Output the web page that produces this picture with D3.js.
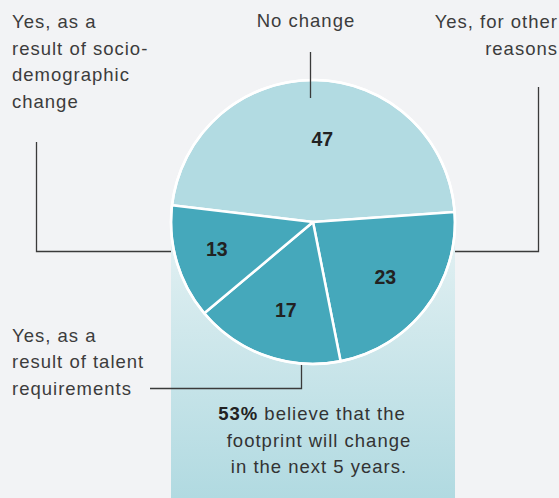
<!DOCTYPE html>
<html>
<head>
<meta charset="utf-8">
<script src="https://cdn.jsdelivr.net/npm/d3@7"></script>
<style>
  html, body { margin: 0; padding: 0; background: #f2f3f5; }
  svg { display: block; font-family: "Liberation Sans", Arial, sans-serif; }
</style>
</head>
<body>
<div id="chart"></div>
<script>
// survey answers, shares in percent (clockwise from "No change")
const categories = ["No change", "Yes, for other reasons", "Yes, as a result of talent requirements", "Yes, as a result of socio-demographic change"];
const values = [47, 23, 17, 13];
const sliceColors = ["#b2dbe2", "#45a8bb", "#45a8bb", "#45a8bb"];

const labelLines = [
    ["No change"],
    ["Yes, for other", "reasons"],
    ["Yes, as a", "result of talent", "requirements"],
    ["Yes, as a", "result of socio-", "demographic", "change"]
];
const noteLines = [["53%", " believe that the"], ["", "footprint will change"], ["", "in the next 5 years."]];

const width = 559, height = 498;
const cx = 313, cy = 222, radius = 142;

const svg = d3.select("#chart").append("svg")
    .attr("width", width)
    .attr("height", height)
    .style("background-color", "#f2f3f5");

const defs = svg.append("defs");
const grad = defs.append("linearGradient")
    .attr("id", "fade")
    .attr("x1", 0).attr("y1", 0).attr("x2", 0).attr("y2", 1);
grad.append("stop").attr("offset", "0%").attr("stop-color", "#e4f1f3");
grad.append("stop").attr("offset", "100%").attr("stop-color", "#b1dae1");

const lineColor = "#3a3a3a";
const leaders = svg.append("g").attr("class", "leaders")
    .attr("fill", "none").attr("stroke", lineColor).attr("stroke-width", 1.3);

// side leaders sit behind the panel
leaders.append("path").attr("d", "M36.5,142V251.5H" + cx);
leaders.append("path").attr("d", "M538.5,87V251.5H" + cx);

// panel behind lower half of the pie
svg.append("rect")
    .attr("x", cx - radius)
    .attr("y", cy)
    .attr("width", radius * 2)
    .attr("height", height - cy)
    .attr("fill", "url(#fade)");

svg.append("path")
    .attr("d", "M301.5," + cy + "V388.5H150")
    .attr("fill", "none").attr("stroke", lineColor).attr("stroke-width", 1.3);

const start = -83.2 * Math.PI / 180;
const pie = d3.pie().sort(null).value(d => d)
    .startAngle(start).endAngle(start + 2 * Math.PI);
const arc = d3.arc().innerRadius(0).outerRadius(radius);
const labelArc = d3.arc().innerRadius(91).outerRadius(91);
const labelNudge = [[7, 8], [0, 0], [3, 2], [-9, 1]];

const pieGroup = svg.append("g").attr("transform", "translate(" + cx + "," + cy + ")");
const arcs = pie(values);

pieGroup.selectAll("path.slice")
    .data(arcs)
    .enter()
    .append("path")
    .attr("class", "slice")
    .attr("d", arc)
    .attr("fill", (d, i) => sliceColors[i])
    .attr("stroke", "#ffffff")
    .attr("stroke-width", 2.5)
    .attr("stroke-linejoin", "round");

pieGroup.append("circle")
    .attr("r", radius)
    .attr("fill", "none")
    .attr("stroke", "#ffffff")
    .attr("stroke-width", 2.5);

pieGroup.selectAll("text.value")
    .data(arcs)
    .enter()
    .append("text")
    .attr("class", "value")
    .attr("transform", (d, i) => {
        const c = labelArc.centroid(d);
        return "translate(" + (c[0] + labelNudge[i][0]) + "," + (c[1] + labelNudge[i][1]) + ")";
    })
    .attr("text-anchor", "middle")
    .attr("dy", "0.36em")
    .attr("font-size", 19.5)
    .attr("font-weight", "bold")
    .attr("fill", "#222")
    .text(d => d.data);

// top leader crosses into the pie
svg.append("path")
    .attr("d", "M310.5,52V98")
    .attr("fill", "none").attr("stroke", lineColor).attr("stroke-width", 1.3);

const labelPos = [
    { x: 306, y: 26.5, anchor: "middle" },
    { x: 558, y: 28, anchor: "end" },
    { x: 12, y: 341.5, anchor: "start" },
    { x: 12, y: 28, anchor: "start" }
];
const lineH = 26.5;
const fontSize = 18.5, tracking = 1;

labelLines.forEach((lines, i) => {
    const p = labelPos[i];
    const t = svg.append("text")
        .attr("x", p.x)
        .attr("y", p.y)
        .attr("text-anchor", p.anchor)
        .attr("font-size", fontSize)
        .attr("letter-spacing", tracking)
        .attr("fill", "#3c3c3c");
    lines.forEach((s, j) => {
        t.append("tspan")
            .attr("x", p.x)
            .attr("dy", j ? lineH : 0)
            .text(s);
    });
});

// note under the pie; first line sits a little to the left
const noteX = 319;
const note = svg.append("text")
    .attr("x", noteX)
    .attr("y", 420)
    .attr("text-anchor", "middle")
    .attr("font-size", fontSize)
    .attr("letter-spacing", tracking)
    .attr("fill", "#333");
noteLines.forEach((pair, j) => {
    const ts = note.append("tspan").attr("x", j ? noteX : noteX - 7).attr("dy", j ? lineH : 0);
    if (pair[0]) ts.append("tspan").attr("font-weight", "bold").attr("fill", "#222").text(pair[0]);
    ts.append("tspan").text(pair[1]);
});
</script>
</body>
</html>
